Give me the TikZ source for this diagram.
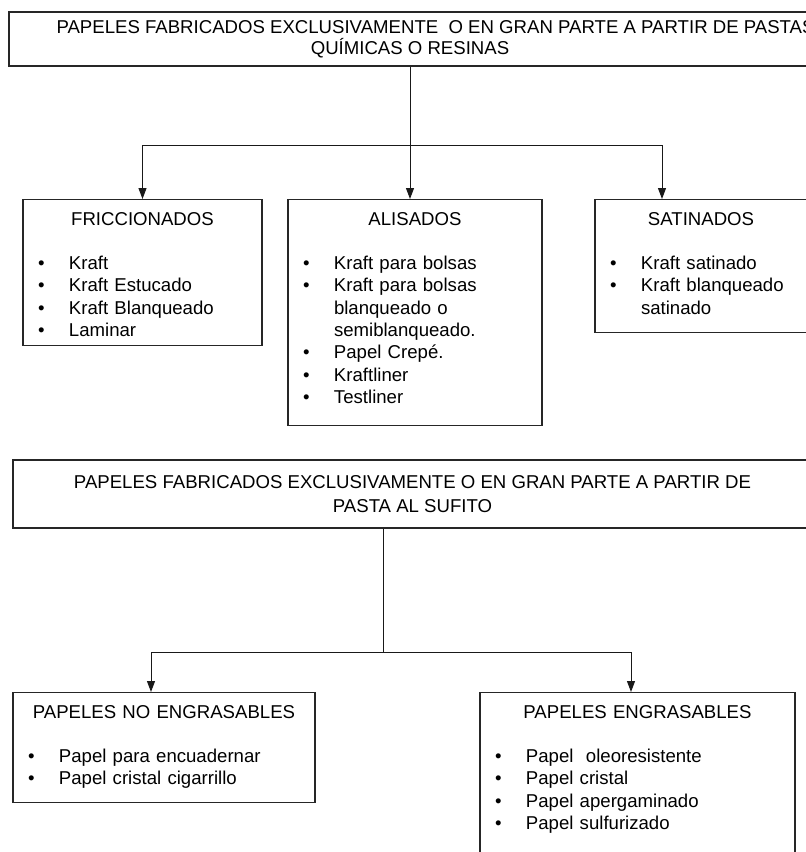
\documentclass[tikz,border=0pt]{standalone}
\usepackage{fontspec}
\setmainfont{Liberation Sans}
\usetikzlibrary{arrows.meta,positioning}
\tikzset{
      headbox/.style={
        draw=black!85,
        line width=1.1pt,
        inner sep=0pt,
        align=center
      },
      listbox/.style={
        draw=black!85,
        line width=1.1pt,
        anchor=north,
        inner xsep=15pt,
        inner ysep=0pt,
        align=left,
        text height=25.5pt
      },
      wire/.style={draw=black!90, line width=1pt},
      link/.style={wire, -{Triangle[length=11pt,width=8pt]}}
    }
\newcommand{\boxtitle}[1]{\makebox[\linewidth]{#1}\par\vspace{22.3pt}}
\newcommand{\itm}[1]{\makebox[31pt][l]{\textbullet}#1\par}
\newcommand{\itmcont}[1]{\hspace*{31pt}#1\par}

\begin{document}
\begin{tikzpicture}[x=1pt,y=-1pt,font=\fontsize{18.6}{22.3}\selectfont]
    \useasboundingbox (0,0) rectangle (806,852);
    % upper tree
    \node[headbox, minimum width=853pt, minimum height=54pt] (top1) at (435.5,39) {PAPELES FABRICADOS EXCLUSIVAMENTE\ \ O EN GRAN PARTE A PARTIR DE PASTAS\\[-1.3pt]QUÍMICAS O RESINAS\hspace*{51pt}};
    \node[listbox, text width=209pt, text depth=120.5pt] (fricc) at (142.5,199) {\boxtitle{FRICCIONADOS}\itm{Kraft}\itm{Kraft Estucado}\itm{Kraft Blanqueado}\itm{Laminar}};
    \node[listbox, text width=224pt, text depth=200.5pt] (alis) at (415,199) {\boxtitle{ALISADOS}\itm{Kraft para bolsas}\itm{Kraft para bolsas}\itmcont{blanqueado o}\itmcont{semiblanqueado.}\itm{Papel Crepé.}\itm{Kraftliner}\itm{Testliner}};
    \node[listbox, text width=182pt, text depth=107.5pt] (satin) at (701,199) {\boxtitle{SATINADOS}\itm{Kraft satinado}\itm{Kraft blanqueado}\itmcont{satinado}};
    \coordinate (hub1) at (410,145);
    \draw[link] (hub1 |- top1.south) -- (hub1 |- alis.north);
    \draw[link] (hub1) -| (fricc.north);
    \draw[link] (hub1) -| ([xshift=-39pt]satin.north);
    % lower tree
    \node[headbox, minimum width=799pt, minimum height=68pt] (top2) at (412.5,494) {PAPELES FABRICADOS EXCLUSIVAMENTE O EN GRAN PARTE A PARTIR DE\\[1.7pt]PASTA AL SUFITO};
    \node[listbox, text width=272pt, text depth=84.5pt] (ng) at (164,692) {\boxtitle{PAPELES NO ENGRASABLES}\itm{Papel para encuadernar}\itm{Papel cristal cigarrillo}};
    \node[listbox, text width=285pt, text depth=200pt] (eng) at (637.5,692) {\boxtitle{PAPELES ENGRASABLES}\itm{Papel\ \ oleoresistente}\itm{Papel cristal}\itm{Papel apergaminado}\itm{Papel sulfurizado}};
    \coordinate (hub2) at (383,652);
    \draw[wire] (hub2 |- top2.south) -- (hub2);
    \draw[link] (hub2) -| ([xshift=-13pt]ng.north);
    \draw[link] (hub2) -| ([xshift=-6.5pt]eng.north);
    \end{tikzpicture}
\end{document}
